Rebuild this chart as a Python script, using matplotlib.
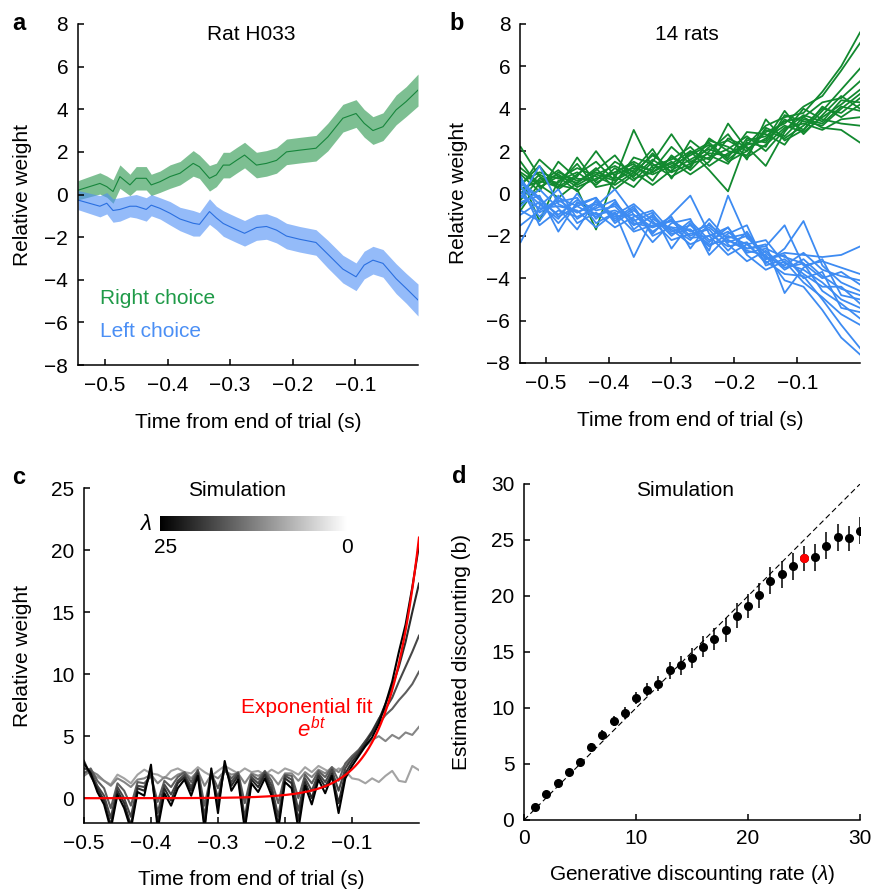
import numpy as np
import matplotlib
matplotlib.use('Agg')
from matplotlib import pyplot as plt

plt.rcParams['font.family'] = ['Liberation Sans', 'DejaVu Sans']
plt.rcParams['mathtext.fontset'] = 'custom'
plt.rcParams['mathtext.rm'] = 'Liberation Sans'
plt.rcParams['mathtext.it'] = 'Liberation Sans:italic'
plt.rcParams['font.size'] = 15

# ---- panel a: one rat, mean +/- sem
t_a = [-0.543, -0.508, -0.497, -0.487, -0.476, -0.460, -0.450, -0.434, -0.426, -0.412,
       -0.396, -0.380, -0.359, -0.349, -0.333, -0.322, -0.311, -0.301, -0.290, -0.277,
       -0.258, -0.242, -0.226, -0.210, -0.189, -0.163, -0.144, -0.120, -0.099, -0.086,
       -0.072, -0.056, -0.035, -0.019, 0.0]
right_a = [0.20, 0.52, 0.37, 0.14, 0.84, 0.45, 0.76, 0.76, 0.45, 0.60,
           0.84, 1.00, 1.46, 1.30, 0.76, 0.92, 1.38, 1.38, 1.60, 1.85,
           1.38, 1.46, 1.60, 2.00, 2.08, 2.17, 2.70, 3.58, 3.80, 3.34,
           3.00, 3.18, 3.97, 4.36, 4.90]
left_a = [-0.26, -0.55, -0.41, -0.75, -0.70, -0.55, -0.55, -0.70, -0.50, -0.65,
          -0.88, -1.15, -1.35, -1.40, -0.80, -1.10, -1.36, -1.50, -1.65, -1.82,
          -1.55, -1.50, -1.67, -1.95, -2.10, -2.25, -2.80, -3.50, -3.86, -3.31,
          -3.08, -3.23, -3.95, -4.40, -4.95]
sem_a = [0.45, 0.50, 0.50, 0.55, 0.55, 0.50, 0.55, 0.55, 0.50, 0.50,
         0.55, 0.55, 0.60, 0.55, 0.60, 0.55, 0.60, 0.60, 0.60, 0.60,
         0.60, 0.60, 0.60, 0.60, 0.60, 0.60, 0.65, 0.65, 0.65, 0.65,
         0.65, 0.65, 0.70, 0.70, 0.75]

# ---- panel b: 14 rats
t_b = np.linspace(-0.54, 0.0, 19)
right_b = [
    [0.5, 1.0, 0.7, 1.2, 0.8, 0.4, 1.0, 1.8, 1.2, 1.9, 2.4, 1.6, 2.3, 3.2, 3.6, 3.8, 4.8, 6.0, 7.6],
    [0.2, 0.6, 0.3, 0.9, 1.5, 0.6, 1.3, 1.1, 2.2, 1.4, 2.2, 2.5, 2.0, 2.9, 3.3, 4.1, 4.6, 5.8, 7.1],
    [1.2, 0.5, 1.1, 0.4, 0.9, 1.3, 0.8, 1.6, 1.0, 2.5, 1.8, 1.4, 2.6, 2.4, 3.5, 3.0, 3.9, 4.9, 5.9],
    [2.2, 0.8, 0.3, 1.7, 0.5, 1.0, 1.5, 1.0, 1.7, 1.2, 2.6, 2.0, 1.8, 3.1, 2.7, 3.6, 4.3, 4.5, 5.3],
    [-0.5, 0.2, 1.0, 0.6, 1.0, 0.7, 3.0, 1.2, 1.4, 2.0, 1.6, 3.3, 2.1, 2.6, 3.2, 2.9, 3.6, 4.2, 4.9],
    [0.8, -1.3, 0.6, 1.0, 0.4, 1.2, 0.6, 1.5, 2.8, 1.5, 1.9, 1.8, 2.4, 2.2, 3.7, 3.4, 3.2, 4.0, 4.7],
    [0.0, 0.9, 0.4, 0.2, -1.7, 0.9, 1.2, 0.9, 1.3, 1.8, 2.3, 1.5, 2.0, 3.0, 2.6, 3.2, 4.0, 3.8, 4.5],
    [1.5, 0.3, 0.8, 0.5, 1.2, 0.2, 0.9, 1.9, 1.0, 1.4, 1.7, 2.1, 2.7, 2.0, 3.0, 3.7, 3.4, 4.4, 4.3],
    [-0.8, 0.5, 0.9, 0.3, 0.7, 1.0, 1.4, 0.6, 1.8, 1.1, 2.0, 2.8, 1.6, 3.5, 2.5, 3.0, 4.1, 3.6, 4.2],
    [0.4, 1.3, 0.2, 0.8, 2.0, 0.8, 0.3, 1.3, 1.6, 2.2, 1.3, 1.9, 2.3, 2.5, 3.9, 2.8, 3.7, 4.6, 4.0],
    [0.9, 0.1, 1.5, 0.7, 0.6, 1.5, 1.0, 0.4, 1.1, 1.6, 2.1, 1.7, 2.9, 2.8, 2.3, 3.5, 3.3, 4.1, 3.9],
    [-0.3, 0.7, 0.5, 1.4, 0.3, 0.5, 1.7, 1.4, 0.8, 1.3, 2.5, 2.2, 1.7, 2.3, 3.1, 3.3, 3.0, 3.5, 3.6],
    [1.0, 0.4, -0.2, 0.5, 1.1, 1.8, 0.7, 1.0, 1.5, 0.9, 1.5, 2.6, 2.2, 1.3, 2.9, 4.0, 3.5, 3.3, 3.2],
    [0.3, 1.6, 0.8, 0.1, 0.9, 0.6, 1.1, 2.1, 0.7, 2.0, 1.1, 0.1, 2.5, 2.7, 3.4, 3.6, 3.1, 3.0, 2.4],
]
left_b = [
    [-0.2, 1.3, -0.5, -0.9, -0.4, -1.1, -1.0, -1.8, -1.2, -2.0, -1.6, -2.3, -2.0, -3.1, -2.8, -2.9, -3.0, -2.9, -2.5],
    [0.5, -0.3, -1.0, -0.3, -0.8, -0.6, -1.5, -1.1, -2.0, -1.3, -2.2, -1.8, -2.6, -2.5, -1.5, -3.4, -3.2, -3.5, -3.8],
    [-2.3, -0.6, 0.2, -1.2, -0.6, 0.2, -1.0, -1.6, -1.3, -1.8, -1.5, -2.1, -1.9, -3.0, -3.4, -2.8, -3.6, -3.9, -4.1],
    [0.8, -0.9, -0.4, -0.2, -1.4, -0.9, -3.0, -1.2, -1.7, -2.4, -2.0, -1.6, -2.8, -2.6, -3.0, -3.3, -4.0, -3.7, -4.3],
    [-0.6, 0.2, -0.7, -1.7, -0.3, -1.2, -0.6, -1.9, -1.0, -0.1, -1.9, -2.5, -2.3, -3.3, -2.6, -1.3, -3.4, -4.2, -4.6],
    [0.1, -1.1, -0.2, -0.6, -1.1, -0.5, -1.3, -0.9, -2.6, -1.4, -2.7, -0.1, -2.1, -2.8, -3.6, -3.1, -3.9, -4.5, -4.8],
    [-1.0, -0.4, -1.4, -0.5, -0.2, -1.4, -0.8, -1.4, -1.6, -2.2, -1.2, -2.2, -2.6, -2.4, -4.7, -3.5, -3.1, -4.8, -5.0],
    [0.4, -1.5, -0.8, -1.1, -0.7, -0.3, -1.7, -1.0, -1.9, -1.7, -2.5, -1.9, -1.5, -3.4, -3.1, -3.8, -4.4, -4.4, -5.2],
    [-0.4, -0.1, -1.8, -0.4, -1.0, -0.8, -1.2, -2.3, -1.4, -1.2, -2.9, -2.0, -2.4, -2.2, -3.3, -3.6, -4.2, -5.0, -5.4],
    [-1.5, -0.8, -0.3, -0.9, -0.5, -1.0, -0.5, -1.3, -2.2, -1.9, -1.7, -2.7, -1.8, -3.1, -2.9, -4.0, -3.7, -5.4, -5.6],
    [0.3, -0.5, -1.2, 0.0, -1.2, -0.4, -1.4, -1.6, -1.1, -2.6, -1.4, -2.4, -3.2, -2.7, -3.5, -3.3, -4.6, -5.2, -5.9],
    [-0.8, -1.3, -0.1, -1.4, -0.9, -1.6, -1.1, -0.8, -1.8, -1.5, -2.3, -1.6, -2.9, -3.6, -3.2, -4.2, -4.9, -5.7, -6.2],
    [-0.1, -0.7, -0.6, -0.8, -1.6, -0.9, -1.8, -1.5, -1.3, -2.1, -2.0, -2.9, -2.4, -3.2, -3.8, -3.9, -5.0, -6.2, -7.3],
    [0.6, -0.2, -1.1, -0.6, -0.2, -1.3, -0.7, -2.0, -1.6, -1.7, -2.4, -2.2, -2.7, -2.9, -4.1, -4.4, -5.5, -6.8, -7.6],
]

# ---- panel c: simulated kernels for several lambda (light = small, dark = 25)
t_c = np.linspace(-0.5, 0.0, 51)
sim_c = [
    [2.1, 2.0, 1.7, 1.4, 1.1, 1.9, 1.6, 1.2, 1.9, 2.3,
     2.0, 1.9, 1.6, 2.2, 2.4, 2.1, 2.0, 2.5, 2.1, 1.8,
     2.2, 2.6, 2.3, 2.0, 2.4, 2.1, 2.2, 1.9, 2.3, 2.0,
     2.4, 2.2, 1.9, 2.5, 2.1, 2.6, 2.3, 2.0, 2.4, 2.2,
     1.6, 1.5, 1.2, 1.6, 1.3, 1.8, 2.2, 1.4, 1.3, 2.6, 2.26],
    [1.8, 2.2, 1.9, 1.4, 1.0, 1.6, 1.3, 0.9, 1.5, 1.6,
     1.9, 1.2, 1.7, 1.5, 1.9, 2.1, 1.6, 2.2, 1.0, 1.9,
     1.6, 2.2, 1.9, 2.0, 1.2, 2.0, 1.8, 2.1, 1.8, 1.1,
     2.0, 2.0, 1.4, 2.1, 1.7, 2.3, 2.0, 2.5, 2.1, 2.7,
     3.1, 3.6, 4.2, 4.7, 5.0, 4.6, 5.1, 4.8, 5.3, 5.1, 5.75],
    [2.0, 2.4, 1.4, 0.8, -0.8, 1.2, 0.6, -0.6, 1.3, 1.2,
     1.8, -0.3, 1.4, 0.9, 1.7, 2.1, 1.3, 2.3, -0.6, 2.0,
     0.8, 2.3, 1.6, 2.1, -0.4, 1.9, 1.5, 2.2, 1.4, -0.4,
     1.9, 1.8, 0.0, 1.9, 1.2, 2.2, 1.7, 2.5, 1.4, 2.8,
     3.4, 3.9, 4.6, 5.2, 6.0, 6.7, 7.2, 7.9, 8.5, 9.2, 10.2],
    [2.4, 2.2, 1.0, 0.2, -1.6, 0.9, 0.0, -1.5, 1.0, 0.9,
     2.0, -1.2, 1.1, 0.3, 1.4, 1.9, 0.9, 2.2, -1.5, 2.0,
     0.0, 2.4, 1.3, 2.0, -1.6, 1.7, 1.2, 2.1, 1.0, -1.5,
     1.8, 1.5, -1.0, 1.6, 0.6, 2.0, 1.3, 2.3, 0.6, 2.4,
     3.2, 3.8, 4.6, 5.4, 6.4, 7.2, 8.1, 9.4, 10.6, 11.8, 13.1],
    [3.0, 1.8, 0.8, -0.2, -2.2, 0.6, -0.4, -2.2, 0.8, 0.6,
     2.2, -2.0, 0.8, -0.2, 1.2, 1.7, 0.6, 2.0, -2.2, 2.2,
     -0.6, 2.6, 1.0, 1.8, -2.2, 1.5, 0.9, 1.9, 0.6, -2.2,
     1.6, 1.2, -1.8, 1.3, 0.0, 1.8, 0.9, 2.0, -0.4, 2.0,
     2.9, 3.6, 4.4, 5.3, 6.3, 7.6, 9.0, 10.6, 12.6, 15.0, 17.3],
    [2.8, 2.0, 0.5, -0.5, -2.5, 0.3, -0.8, -2.5, 0.5, 0.2,
     2.7, -2.5, 0.4, -0.6, 0.8, 1.5, 0.2, 1.8, -2.5, 2.4,
     -1.2, 3.0, 0.6, 1.5, -2.5, 1.2, 0.5, 1.6, 0.2, -2.5,
     1.3, 0.8, -2.5, 1.0, -0.5, 1.5, 0.4, 1.8, -1.2, 1.6,
     2.6, 3.4, 4.2, 4.9, 6.0, 7.6, 9.4, 11.8, 14.0, 17.0, 20.4],
]
sim_colors = ['#a3a3a3', '#858585', '#5e5e5e', '#474747', '#2a2a2a', '#000000']
fit_amp = 21.0
fit_rate = 22.0

# ---- panel d: recovery of discounting rate
lam_d = list(range(1, 31))
b_d = [1.19, 2.29, 3.28, 4.26, 5.15, 6.55, 7.60, 8.85, 9.56, 10.87,
       11.65, 12.18, 13.35, 13.82, 14.50, 15.49, 16.15, 16.95, 18.23, 19.12,
       20.05, 21.36, 21.95, 22.64, 23.35, 23.44, 24.49, 25.23, 25.14, 25.83]
err_d = [0.2, 0.2, 0.25, 0.3, 0.3, 0.35, 0.4, 0.45, 0.5, 0.55,
         0.6, 0.7, 0.8, 0.85, 0.9, 0.95, 1.0, 1.05, 1.1, 1.1,
         1.1, 1.2, 1.2, 1.2, 1.15, 1.2, 1.2, 1.2, 1.1, 1.2]
highlight = 25

green = '#12892f'
blue = '#3d8bf2'
FS = 15
time_ticks = [-0.5, -0.4, -0.3, -0.2, -0.1]
time_labels = ['\u22120.5', '\u22120.4', '\u22120.3', '\u22120.2', '\u22120.1']


def style(ax, xpad=8):
    for s in ['top', 'right']:
        ax.spines[s].set_visible(False)
    for s in ['left', 'bottom']:
        ax.spines[s].set_linewidth(1.1)
    ax.tick_params(direction='in', length=4, width=1.1, labelsize=FS)
    ax.tick_params(axis='y', pad=7)
    ax.tick_params(axis='x', pad=xpad)


fig = plt.figure(figsize=(8.72, 8.91), dpi=100)

# a
ax = fig.add_axes([0.0894, 0.5903, 0.390, 0.3828])
r = np.array(right_a)
l = np.array(left_a)
s = np.array(sem_a)
ax.fill_between(t_a, r - s, r + s, color='#27954a', alpha=0.6, lw=0)
ax.fill_between(t_a, l - s, l + s, color='#4d8ef5', alpha=0.6, lw=0)
ax.plot(t_a, right_a, color='#17863c', lw=0.8)
ax.plot(t_a, left_a, color='#2a6fe0', lw=0.8)
ax.set_xlim(-0.543, 0.0)
ax.set_ylim(-8, 8)
ax.set_xticks(time_ticks)
ax.set_xticklabels(time_labels)
ax.set_yticks(range(-8, 9, 2))
ax.set_ylabel('Relative weight', fontsize=FS)
ax.yaxis.set_label_coords(-0.135, 0.5)
ax.set_xlabel('Time from end of trial (s)', fontsize=FS)
ax.xaxis.set_label_coords(0.5, -0.141)
ax.text(0.51, 0.97, 'Rat H033', transform=ax.transAxes, ha='center', va='center', fontsize=FS)
ax.text(0.065, 0.195, 'Right choice', transform=ax.transAxes, color='#1f9a48', fontsize=FS, va='center')
ax.text(0.065, 0.098, 'Left choice', transform=ax.transAxes, color='#4b8ff5', fontsize=FS, va='center')
style(ax)
fig.text(0.022, 0.974, 'a', fontsize=17, fontweight='bold', ha='center', va='center')

# b
ax = fig.add_axes([0.5963, 0.5926, 0.390, 0.3805])
for row in right_b:
    ax.plot(t_b, row, color=green, lw=1.3, solid_joinstyle='round')
for row in left_b:
    ax.plot(t_b, row, color=blue, lw=1.3, solid_joinstyle='round')
ax.set_xlim(-0.541, 0.0)
ax.set_ylim(-8, 8)
ax.set_xticks(time_ticks)
ax.set_xticklabels(time_labels)
ax.set_yticks(range(-8, 9, 2))
ax.set_ylabel('Relative weight', fontsize=FS)
ax.yaxis.set_label_coords(-0.153, 0.5)
ax.set_xlabel('Time from end of trial (s)', fontsize=FS)
ax.xaxis.set_label_coords(0.5, -0.141)
ax.text(0.49, 0.97, '14 rats', transform=ax.transAxes, ha='center', va='center', fontsize=FS)
style(ax)
fig.text(0.524, 0.974, 'b', fontsize=17, fontweight='bold', ha='center', va='center')

# c
ax = fig.add_axes([0.0963, 0.0763, 0.3842, 0.376])
for row, c in zip(sim_c, sim_colors):
    ax.plot(t_c, row, color=c, lw=1.5)
tt = np.linspace(-0.5, 0.0, 300)
ax.plot(tt, fit_amp * np.exp(fit_rate * tt), color='#ff0000', lw=1.6)
ax.set_xlim(-0.5, 0.0)
ax.set_ylim(-2, 25)
ax.set_xticks(time_ticks)
ax.set_xticklabels(time_labels)
ax.set_yticks([0, 5, 10, 15, 20, 25])
ax.set_ylabel('Relative weight', fontsize=FS)
ax.yaxis.set_label_coords(-0.155, 0.5)
ax.set_xlabel('Time from end of trial (s)', fontsize=FS)
ax.xaxis.set_label_coords(0.5, -0.14)
ax.text(0.457, 0.994, 'Simulation', transform=ax.transAxes, ha='center', va='center', fontsize=FS)
ax.text(0.47, 0.346, 'Exponential fit', transform=ax.transAxes, ha='left', va='center',
        color='#ff0000', fontsize=FS)
ax.text(0.635, 0.278, r'$e^{bt}$', transform=ax.transAxes, ha='left', va='center',
        color='#ff0000', fontsize=FS + 1)
style(ax)
fig.text(0.021, 0.464, 'c', fontsize=17, fontweight='bold', ha='center', va='center')

cax = fig.add_axes([0.1835, 0.404, 0.2144, 0.0168])
cax.imshow(np.linspace(0, 1, 256)[None, :], cmap='gray', aspect='auto')
cax.set_axis_off()
fig.text(0.1665, 0.4115, r'$\lambda$', fontsize=FS + 1, ha='center', va='center')
fig.text(0.19, 0.386, '25', fontsize=FS, ha='center', va='center')
fig.text(0.398, 0.386, '0', fontsize=FS, ha='center', va='center')

# d
ax = fig.add_axes([0.601, 0.0797, 0.3853, 0.3771])
ax.plot([0, 30], [0, 30], color='black', lw=0.8, ls=(0, (5, 3)))
ax.errorbar(lam_d, b_d, yerr=err_d, fmt='o', color='black', ms=5.5, elinewidth=1.1, capsize=0, zorder=3)
i = lam_d.index(highlight)
ax.plot([lam_d[i]], [b_d[i]], 'o', color='#ff0000', ms=5.5, zorder=4)
ax.set_xlim(0, 30)
ax.set_ylim(0, 30)
ax.set_xticks([0, 10, 20, 30])
ax.set_yticks([0, 5, 10, 15, 20, 25, 30])
ax.set_ylabel('Estimated discounting (b)', fontsize=FS)
ax.yaxis.set_label_coords(-0.158, 0.5)
ax.set_xlabel(r'Generative discounting rate ($\lambda$)', fontsize=FS)
ax.xaxis.set_label_coords(0.5, -0.128)
ax.text(0.48, 0.98, 'Simulation', transform=ax.transAxes, ha='center', va='center', fontsize=FS)
style(ax, xpad=6.5)
for sp in ax.spines.values():
    sp.set_zorder(5)
fig.text(0.527, 0.465, 'd', fontsize=17, fontweight='bold', ha='center', va='center')

fig.savefig('out.png', dpi=100)
